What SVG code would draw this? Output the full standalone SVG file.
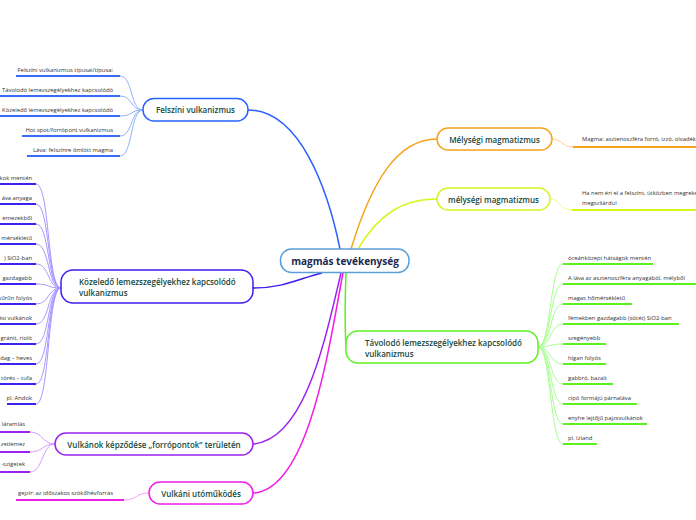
<svg xmlns="http://www.w3.org/2000/svg" width="696" height="520" viewBox="0 0 696 520">
<style>
text{font-family:"Open Sans","Noto Sans","Liberation Sans",sans-serif}
.nr{fill:#fff;stroke-width:1.5}
.nt{font-size:8px;font-weight:600;fill:#17473a}
.ct{font-size:5.85px;fill:#333}
.m{fill:none;stroke-width:1.5}
.b{fill:none;stroke-width:1}
.u{fill:none;stroke-width:2}
</style>
<rect width="696" height="520" fill="#fff"/>
<g id="connectors">
<path class="m" stroke="#2a62ff" d="M248,110 C300,110 328,190 340,249"/>
<path class="m" stroke="#3b1ff0" d="M253,288 C285,288 300,278 322,273"/>
<path class="m" stroke="#9a22f0" d="M253,444 C305,440 325,340 341,273"/>
<path class="m" stroke="#f01ee6" d="M253,493 C310,490 330,340 343,273"/>
<path class="m" stroke="#5cf01f" d="M346,273 C345,300 345,330 346,347"/>
<path class="m" stroke="#f5a31f" d="M351,249 C372,180 398,139 437,139"/>
<path class="m" stroke="#d8f51f" d="M358,249 C378,215 402,199 437,199"/>
<g stroke="#8fb0ff" class="b">
<path d="M143,110 C130,110 133,76 120,76"/><path d="M143,110 C130,110 133,96 120,96"/><path d="M143,110 C130,110 133,116 120,116"/><path d="M143,110 C130,110 133,136 120,136"/><path d="M143,110 C130,110 133,156 120,156"/>
</g>
<g stroke="#3b6cf5" class="u">
<path d="M16,76H120"/><path d="M0,96H120"/><path d="M0,116H120"/><path d="M22,136H120"/><path d="M27,156H120"/>
</g>
<g stroke="#a597ff" class="b">
<path d="M61,288 C47,288 50,184 36,184"/><path d="M61,288 C47,288 50,204 36,204"/><path d="M61,288 C47,288 50,224 36,224"/><path d="M61,288 C47,288 50,244 36,244"/><path d="M61,288 C47,288 50,264 36,264"/><path d="M61,288 C47,288 50,284 36,284"/><path d="M61,288 C47,288 50,304 36,304"/><path d="M61,288 C47,288 50,324 36,324"/><path d="M61,288 C47,288 50,344 36,344"/><path d="M61,288 C47,288 50,364 36,364"/><path d="M61,288 C47,288 50,384 36,384"/><path d="M61,288 C47,288 50,404 36,404"/>
</g>
<g stroke="#3b22f0" class="u">
<path d="M0,184H36"/><path d="M0,204H36"/><path d="M0,224H36"/><path d="M0,244H36"/><path d="M0,264H36"/><path d="M0,284H36"/><path d="M0,304H36"/><path d="M0,324H36"/><path d="M0,344H36"/><path d="M0,364H36"/><path d="M0,384H36"/><path d="M7,404H36"/>
</g>
<g stroke="#d49bff" class="b">
<path d="M55,444 C42,444 43,432 30,432"/><path d="M55,444 C42,444 43,452 30,452"/><path d="M55,444 C42,444 43,472 30,472"/>
</g>
<g stroke="#9a22f0" class="u">
<path d="M0,432H30"/><path d="M0,452H30"/><path d="M0,472H30"/>
</g>
<path class="b" stroke="#ff9bf5" d="M149,493 C136,493 137,500 124,500"/>
<path class="u" stroke="#f01ee6" d="M16,500H124"/>
<path class="b" stroke="#ffd08f" d="M552,139 C562,139 562,147 573,147"/>
<path class="u" stroke="#f5a31f" d="M573,147H700"/>
<path class="b" stroke="#eaff8f" d="M550,199 C560,199 560,210 572,210"/>
<path class="u" stroke="#d8f51f" d="M572,210H700"/>
<g stroke="#a5ff8f" class="b">
<path d="M538,347 C551,347 550,264 563,264"/><path d="M538,347 C551,347 550,284 563,284"/><path d="M538,347 C551,347 550,304 563,304"/><path d="M538,347 C551,347 550,324 563,324"/><path d="M538,347 C551,347 550,344 563,344"/><path d="M538,347 C551,347 550,364 563,364"/><path d="M538,347 C551,347 550,384 563,384"/><path d="M538,347 C551,347 550,404 563,404"/><path d="M538,347 C551,347 550,424 563,424"/><path d="M538,347 C551,347 550,444 563,444"/>
</g>
<g stroke="#5cf01f" class="u">
<path d="M563,264H653"/><path d="M563,284H700"/><path d="M563,304H632"/><path d="M563,324H679"/><path d="M563,344H606"/><path d="M563,364H606"/><path d="M563,384H613"/><path d="M563,404H637"/><path d="M563,424H647"/><path d="M563,444H597"/>
</g>
</g>
<g id="center">
<rect class="nr" stroke="#5b9fd6" x="280.5" y="249" width="128.5" height="23.5" rx="11"/>
<text x="345" y="264.5" text-anchor="middle" font-size="10" font-weight="700" fill="#1c2752">magmás tevékenység</text>
</g>
<g id="felszini">
<rect class="nr" stroke="#2a62ff" x="143" y="98.5" width="105" height="22.5" rx="11"/>
<text class="nt" x="195.5" y="113" text-anchor="middle">Felszíni vulkanizmus</text>
<g class="ct" text-anchor="end">
<text x="113" y="71.5">Felszíni vulkanizmus típusai/típusa:</text>
<text x="113" y="91.5">Távolodó lemezszegélyekhez kapcsolódó</text>
<text x="113" y="111.5">Közeledő lemezszegélyekhez kapcsolódó</text>
<text x="113" y="131.5">Hot spot/forrópont vulkanizmus</text>
<text x="113" y="151.5">Láva: felszínre ömlött magma</text>
</g>
</g>
<g id="kozeledo">
<rect class="nr" stroke="#3b1ff0" x="61" y="270" width="192" height="33" rx="12"/>
<text class="nt" x="79" y="285">Közeledő lemezszegélyekhez kapcsolódó</text>
<text class="nt" x="79" y="296">vulkanizmus</text>
<g class="ct" text-anchor="end">
<text x="32" y="179.5">okok mentén</text>
<text x="32" y="199.5">áva anyaga</text>
<text x="32" y="219.5">emezekből</text>
<text x="32" y="239.5">mérsékletű</text>
<text x="32" y="259.5">) SiO2-ban</text>
<text x="32" y="279.5">gazdagabb</text>
<text x="32" y="299.5">sűrűn folyós</text>
<text x="32" y="319.5">ési vulkánok</text>
<text x="32" y="339.5">gránit, riolit</text>
<text x="32" y="359.5">dag – heves</text>
<text x="32" y="379.5">törés – tufa</text>
<text x="32" y="399.5">pl. Andok</text>
</g>
</g>
<g id="forropontok">
<rect class="nr" stroke="#9a22f0" x="55" y="433" width="198" height="22" rx="11"/>
<text class="nt" x="154" y="447.5" text-anchor="middle">Vulkánok képződése „forrópontok” területén</text>
<g class="ct" text-anchor="end">
<text x="25" y="425.5">láramlás</text>
<text x="25" y="445.5">zetlemez</text>
<text x="25" y="466">-szigetek</text>
</g>
</g>
<g id="utomukodes">
<rect class="nr" stroke="#f01ee6" x="149" y="482" width="104" height="22" rx="11"/>
<text class="nt" x="201" y="496.5" text-anchor="middle">Vulkáni utóműködés</text>
<text class="ct" x="18" y="495">gejzír: az időszakos szökőhévforrás</text>
</g>
<g id="melysegi1">
<rect class="nr" stroke="#f5a31f" x="437" y="128" width="115" height="22" rx="11"/>
<text class="nt" x="494.5" y="142.5" text-anchor="middle">Mélységi magmatizmus</text>
<text class="ct" x="582" y="141">Magma: asztenoszféra forró, izzó, olvadék</text>
</g>
<g id="melysegi2">
<rect class="nr" stroke="#d8f51f" x="437" y="188" width="113" height="22" rx="11"/>
<text class="nt" x="493.5" y="202.5" text-anchor="middle">mélységi magmatizmus</text>
<text class="ct" x="582" y="195">Ha nem éri el a felszínt, útközben megreked</text>
<text class="ct" x="582" y="204.5">megszilárdul</text>
</g>
<g id="tavolodo">
<rect class="nr" stroke="#5cf01f" x="346" y="331" width="192" height="32" rx="12"/>
<text class="nt" x="365" y="345.5">Távolodó lemezszegélyekhez kapcsolódó</text>
<text class="nt" x="365" y="356.5">vulkanizmus</text>
<g class="ct">
<text x="568" y="259.5">óceánközepi hátságok mentén</text>
<text x="568" y="279.5">A láva az asztenoszféra anyagából, mélyből</text>
<text x="568" y="299.5">magas hőmérsékletű</text>
<text x="568" y="319.5">fémekben gazdagabb (sötét) SiO2-ban</text>
<text x="568" y="339.5">szegényebb</text>
<text x="568" y="359.5">hígan folyós</text>
<text x="568" y="379.5">gabbró, bazalt</text>
<text x="568" y="399.5">cipó formájú párnaláva</text>
<text x="568" y="419.5">enyhe lejtőjű pajzsvulkánok</text>
<text x="568" y="439.5">pl. Izland</text>
</g>
</g>
</svg>
